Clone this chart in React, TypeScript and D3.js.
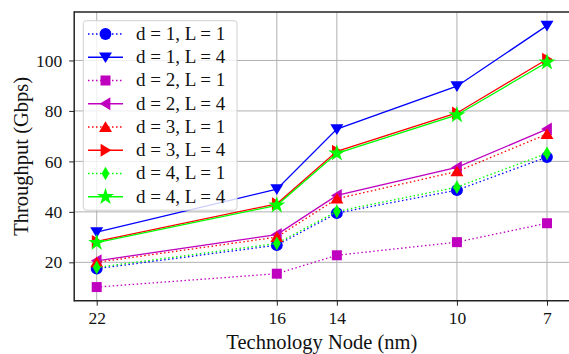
import { useEffect, useRef } from 'react';
import * as d3 from 'd3';

const nodes = [22, 16, 14, 10, 7];
const seriesNames = [
  'd = 1, L = 1',
  'd = 1, L = 4',
  'd = 2, L = 1',
  'd = 2, L = 4',
  'd = 3, L = 1',
  'd = 3, L = 4',
  'd = 4, L = 1',
  'd = 4, L = 4',
];
const d1L1 = [17.5, 26.8, 39.5, 48.6, 61.7];
const d1L4 = [32.0, 49.0, 72.8, 89.8, 113.8];
const d2L1 = [10.2, 15.5, 22.8, 28.0, 35.5];
const d2L4 = [20.6, 31.0, 46.5, 57.6, 72.8];
const d3L1 = [20.0, 30.0, 45.2, 56.0, 70.8];
const d3L4 = [28.3, 43.2, 64.0, 79.2, 100.5];
const d4L1 = [18.0, 27.5, 40.2, 49.8, 63.2];
const d4L4 = [27.8, 42.6, 63.2, 78.4, 99.3];
const yTicks = [20, 40, 60, 80, 100];

const seriesValues = [d1L1, d1L4, d2L1, d2L4, d3L1, d3L4, d4L1, d4L4];
const colors = ['#0000ff', '#0000ff', '#bf00bf', '#bf00bf', '#ff0000', '#ff0000', '#00ff00', '#00ff00'];
const markers = ['o', 'v', 's', '<', '^', '>', 'd', '*'];
const dotted = [true, false, true, false, true, false, true, false];

const W = 569;
const H = 354;
const FONT = 'serif';

function markerPath(m: string): string {
  const s = 6.5;
  switch (m) {
    case 'o':
      return d3.symbol(d3.symbolCircle, 110)()!;
    case 's':
      return d3.symbol(d3.symbolSquare, 100)()!;
    case '*':
      return d3.symbol(d3.symbolStar, 90)()!;
    case 'v':
      return `M${-s},${-s * 0.75}L${s},${-s * 0.75}L0,${s * 0.9}Z`;
    case '^':
      return `M${-s},${s * 0.75}L${s},${s * 0.75}L0,${-s * 0.9}Z`;
    case '<':
      return `M${s * 0.75},${-s}L${s * 0.75},${s}L${-s * 0.9},0Z`;
    case '>':
      return `M${-s * 0.75},${-s}L${-s * 0.75},${s}L${s * 0.9},0Z`;
    case 'd':
      return `M0,${-s * 1.05}L${s * 0.6},0L0,${s * 1.05}L${-s * 0.6},0Z`;
    default:
      return '';
  }
}

export default function App() {
  const svgRef = useRef<SVGSVGElement>(null);

  useEffect(() => {
    const svg = d3.select(svgRef.current);
    svg.selectAll('*').remove();

    const left = 74.2;
    const right = 569.5;
    const top = 12;
    const bottom = 300.7;

    const x = d3.scaleLinear().domain([22.75, 6.25]).range([left, right]);
    const y = d3.scaleLinear().domain([4.8, 119.2]).range([bottom, top]);

    const grid = svg.append('g');
    nodes.forEach((n) => {
      grid.append('line')
        .attr('x1', x(n)).attr('x2', x(n))
        .attr('y1', top).attr('y2', bottom)
        .attr('stroke', '#b0b0b0').attr('stroke-width', 1);
    });
    yTicks.forEach((t) => {
      grid.append('line')
        .attr('x1', left).attr('x2', right)
        .attr('y1', y(t)).attr('y2', y(t))
        .attr('stroke', '#b0b0b0').attr('stroke-width', 1);
    });

    const xAxis = svg.append('g')
      .attr('transform', `translate(0,${bottom})`)
      .call(d3.axisBottom(x).tickValues(nodes).tickSize(5).tickPadding(6).tickFormat(d3.format('d')));
    xAxis.attr('font-family', FONT).attr('font-size', 17.5);
    xAxis.select('.domain').remove();
    xAxis.selectAll('line').attr('stroke', '#222').attr('stroke-width', 1);
    xAxis.selectAll('text').attr('fill', '#111');

    const yAxis = svg.append('g')
      .attr('transform', `translate(${left},0)`)
      .call(d3.axisLeft(y).tickValues(yTicks).tickSize(5).tickPadding(7).tickFormat(d3.format('d')));
    yAxis.attr('font-family', FONT).attr('font-size', 17.5);
    yAxis.select('.domain').remove();
    yAxis.selectAll('line').attr('stroke', '#222').attr('stroke-width', 1);
    yAxis.selectAll('text').attr('fill', '#111');

    const plot = svg.append('g');
    const line = d3.line<number>()
      .x((_, i) => x(nodes[i]))
      .y((v) => y(v));

    seriesValues.forEach((vals, si) => {
      plot.append('path')
        .attr('d', line(vals))
        .attr('fill', 'none')
        .attr('stroke', colors[si])
        .attr('stroke-width', 1.3)
        .attr('stroke-dasharray', dotted[si] ? '1.5 2.5' : null);
      plot.selectAll(null)
        .data(vals)
        .enter()
        .append('path')
        .attr('d', markerPath(markers[si]))
        .attr('transform', (v, i) => `translate(${x(nodes[i])},${y(v)})`)
        .attr('fill', colors[si]);
    });

    // spines (right one sits just past the edge of the figure)
    const spines = svg.append('g').attr('stroke', '#222').attr('stroke-width', 1.5);
    spines.append('line').attr('x1', left).attr('x2', left).attr('y1', top - 0.75).attr('y2', bottom + 0.75);
    spines.append('line').attr('x1', left).attr('x2', W).attr('y1', top).attr('y2', top);
    spines.append('line').attr('x1', left).attr('x2', W).attr('y1', bottom).attr('y2', bottom);

    // legend
    const lg = svg.append('g').attr('font-family', FONT).attr('font-size', 19);
    lg.append('rect')
      .attr('x', 83.3).attr('y', 20.7)
      .attr('width', 153.7).attr('height', 189.5)
      .attr('rx', 3)
      .attr('fill', 'white').attr('fill-opacity', 0.8)
      .attr('stroke', '#d0d0d0').attr('stroke-width', 1);
    seriesNames.forEach((name, si) => {
      const cy = 34 + si * 23.25;
      lg.append('line')
        .attr('x1', 88).attr('x2', 123)
        .attr('y1', cy).attr('y2', cy)
        .attr('stroke', colors[si]).attr('stroke-width', 1.3)
        .attr('stroke-dasharray', dotted[si] ? '1.5 2.5' : null);
      lg.append('path')
        .attr('d', markerPath(markers[si]))
        .attr('transform', `translate(105.5,${cy})`)
        .attr('fill', colors[si]);
      lg.append('text')
        .attr('x', 136).attr('y', cy + 5.8)
        .attr('fill', '#111')
        .text(name);
    });

    svg.append('text')
      .attr('x', (left + right) / 2).attr('y', 349)
      .attr('text-anchor', 'middle')
      .attr('font-family', FONT).attr('font-size', 20.5).attr('fill', '#111')
      .text('Technology Node (nm)');

    svg.append('text')
      .attr('transform', `translate(27.5,${(top + bottom) / 2}) rotate(-90)`)
      .attr('text-anchor', 'middle')
      .attr('font-family', FONT).attr('font-size', 20.5).attr('fill', '#111')
      .text('Throughput (Gbps)');
  }, []);

  return (
    <svg
      ref={svgRef}
      width={W}
      height={H}
      fontFamily={FONT}
      style={{ position: 'absolute', left: 0, top: 0, background: 'white' }}
    />
  );
}
